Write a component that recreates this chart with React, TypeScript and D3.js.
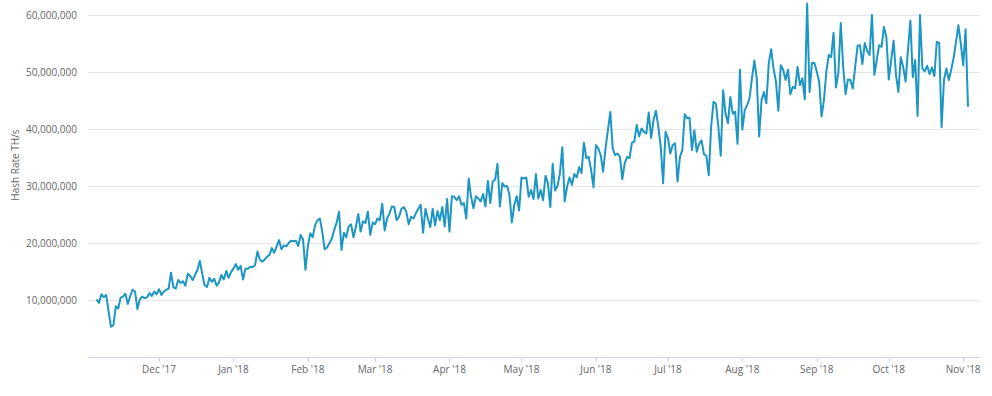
import React from "react";
import * as d3 from "d3";

// Daily hash rate readings (million TH/s), starting 5 Nov 2017
const startDate = new Date(2017, 10, 5);

// Nov '17 -> mid Jan '18
const hashRatePart1 = [
  10.1, 9.5, 11.0, 10.5, 10.9, 8.0, 5.3, 5.6, 8.9, 8.5, 10.4, 10.6, 11.1, 9.3,
  10.7, 11.8, 11.5, 8.4, 10.1, 10.6, 10.3, 10.5, 11.2, 10.7, 11.5, 11.0, 11.9,
  10.9, 11.5, 11.8, 12.0, 14.8, 12.2, 12.0, 13.5, 13.0, 13.3, 12.5, 14.6, 14.2,
  13.5, 14.4, 15.3, 16.9, 14.6, 12.6, 12.3, 13.9, 13.2, 13.7, 12.5, 13.1, 14.4,
  13.6, 15.1, 13.9, 14.9, 15.5, 16.3, 15.3, 16.0, 13.6, 15.5, 15.5, 15.8, 15.8,
  16.1, 18.5, 17.1, 16.7, 17.1, 17.6,
];

// mid Jan '18 -> end Mar '18
const hashRatePart2 = [
  17.9, 19.1, 18.3, 19.4, 20.5, 18.9, 19.6, 19.4, 20.0, 20.4, 20.3, 20.4, 19.5,
  21.4, 20.6, 15.3, 19.4, 21.7, 21.0, 23.1, 24.0, 24.3, 22.0, 18.9, 19.2, 20.0,
  20.8, 22.3, 23.6, 25.5, 18.8, 21.8, 21.0, 22.9, 23.3, 21.0, 22.8, 25.1, 22.0,
  23.8, 23.5, 25.5, 21.4, 23.6, 23.3, 24.3, 24.0, 26.9, 22.2, 24.3, 25.2, 26.4,
  26.3, 24.0, 24.6, 26.0, 26.3, 25.5, 23.3, 24.6, 24.3, 25.2, 26.0, 26.7, 21.8,
  26.0, 24.3, 22.8, 26.0, 23.1, 25.6, 24.0, 26.3, 22.9, 27.7, 22.0, 28.2,
];

// Apr '18 -> mid Jun '18
const hashRatePart3 = [
  28.1, 27.5, 28.2, 26.7, 27.0, 24.3, 31.3, 28.1, 26.1, 28.2, 27.8, 27.3, 28.6,
  26.4, 30.9, 27.0, 30.8, 31.1, 33.9, 26.4, 30.5, 29.9, 30.0, 28.4, 23.6, 26.7,
  28.2, 25.7, 31.5, 31.3, 31.5, 28.1, 29.3, 27.7, 32.1, 27.8, 29.3, 27.5, 31.8,
  30.5, 26.3, 33.9, 29.2, 30.0, 32.2, 36.8, 27.3, 29.9, 31.5, 30.2, 32.1, 31.5,
  33.3, 32.3, 37.6, 34.9, 35.1, 32.8, 29.8, 37.2, 36.6, 35.4, 32.5, 36.6, 39.8,
  43.0, 36.6, 35.4, 35.7, 35.1, 31.2, 34.0, 35.1, 34.9, 37.6,
];

// mid Jun '18 -> end Aug '18
const hashRatePart4 = [
  37.8, 40.7, 38.7, 40.1, 39.5, 39.2, 42.9, 38.4, 41.6, 43.2, 40.4, 36.9, 30.5,
  39.5, 38.4, 35.7, 37.2, 37.5, 30.8, 35.1, 36.3, 42.6, 41.9, 42.0, 36.3, 39.8,
  36.0, 37.4, 38.0, 35.6, 35.3, 31.9, 40.4, 44.8, 44.4, 40.4, 35.3, 46.8, 42.7,
  41.0, 45.6, 42.7, 43.0, 37.4, 50.4, 39.9, 43.3, 44.2, 45.4, 48.9, 52.0, 48.9,
  38.7, 45.1, 46.5, 44.5, 51.5, 54.0, 50.6, 48.3, 43.2, 51.2, 50.4, 48.6, 50.4,
  46.1, 47.4, 47.1, 50.9, 47.7, 48.9, 45.2, 62.0,
];

// end Aug '18 -> Nov '18
const hashRatePart5 = [
  46.5, 51.6, 51.6, 50.1, 48.3, 42.2, 45.1, 50.1, 53.0, 52.6, 56.9, 47.3, 49.9,
  58.6, 50.9, 46.1, 48.7, 48.6, 47.1, 50.9, 54.6, 54.7, 51.4, 55.1, 53.7, 53.0,
  60.0, 49.5, 52.1, 54.7, 54.4, 57.9, 56.1, 48.7, 52.1, 55.5, 49.5, 46.5, 52.6,
  50.9, 48.3, 53.9, 59.0, 49.1, 52.1, 42.3, 60.0, 50.6, 50.1, 51.1, 49.6, 50.8,
  49.3, 55.3, 55.1, 40.3, 48.6, 50.6, 48.6, 50.4, 52.4, 55.3, 58.2, 55.0, 51.2,
  57.5, 43.9,
];

const yTicks = [10e6, 20e6, 30e6, 40e6, 50e6, 60e6];
const xTicks = [
  new Date(2017, 11, 1),
  new Date(2018, 0, 1),
  new Date(2018, 1, 1),
  new Date(2018, 2, 1),
  new Date(2018, 3, 1),
  new Date(2018, 4, 1),
  new Date(2018, 5, 1),
  new Date(2018, 6, 1),
  new Date(2018, 7, 1),
  new Date(2018, 8, 1),
  new Date(2018, 9, 1),
  new Date(2018, 10, 1),
];
const yTitle = "Hash Rate TH/s";

const width = 992;
const height = 396;
const plotLeft = 88;
const plotRight = 980;
const plotBottom = 357;
const plotTop = 15;
const font = "'Open Sans', 'DejaVu Sans', sans-serif";

export default function App() {
  const values = [
    ...hashRatePart1,
    ...hashRatePart2,
    ...hashRatePart3,
    ...hashRatePart4,
    ...hashRatePart5,
  ];
  const data = values.map((v, i) => ({
    date: d3.timeDay.offset(startDate, i),
    value: v * 1e6,
  }));

  const x = d3
    .scaleTime()
    .domain([new Date(2017, 10, 1, 10), new Date(2018, 10, 8)])
    .range([plotLeft, plotRight]);

  const y = d3.scaleLinear().domain([0, 60e6]).range([plotBottom, plotTop]);

  const line = d3
    .line<{ date: Date; value: number }>()
    .x((d) => x(d.date))
    .y((d) => y(d.value));

  const fmtY = d3.format(",");
  const fmtX = d3.timeFormat("%b '%y");

  return (
    <svg
      width={width}
      height={height}
      style={{ position: "absolute", left: 0, top: 0, background: "#fff" }}
      fontFamily={font}
    >
      {/* grid lines */}
      {yTicks.map((t) => (
        <line
          key={t}
          x1={plotLeft}
          x2={plotRight}
          y1={Math.round(y(t)) + 0.5}
          y2={Math.round(y(t)) + 0.5}
          stroke="#e6e6e6"
        />
      ))}
      {/* y labels */}
      {yTicks.map((t) => (
        <text
          key={t}
          x={77}
          y={y(t) + 3.5}
          textAnchor="end"
          fontSize={10}
          fill="#666"
        >
          {fmtY(t)}
        </text>
      ))}
      <text
        transform={`translate(19,165) rotate(-90)`}
        textAnchor="middle"
        fontSize={10}
        fill="#666"
      >
        {yTitle}
      </text>
      {/* x axis */}
      <line
        x1={plotLeft}
        x2={plotRight}
        y1={plotBottom + 0.5}
        y2={plotBottom + 0.5}
        stroke="#ccd6eb"
      />
      {xTicks.map((t) => (
        <g key={t.getTime()}>
          <line
            x1={Math.round(x(t)) + 0.5}
            x2={Math.round(x(t)) + 0.5}
            y1={plotBottom}
            y2={plotBottom + 5}
            stroke="#ccd6eb"
          />
          <text
            x={x(t)}
            y={plotBottom + 16}
            textAnchor="middle"
            fontSize={10}
            fill="#666"
          >
            {fmtX(t)}
          </text>
        </g>
      ))}
      {/* series */}
      <path
        d={line(data) || ""}
        fill="none"
        stroke="#1d96c3"
        strokeWidth={2}
        strokeLinejoin="round"
      />
    </svg>
  );
}
